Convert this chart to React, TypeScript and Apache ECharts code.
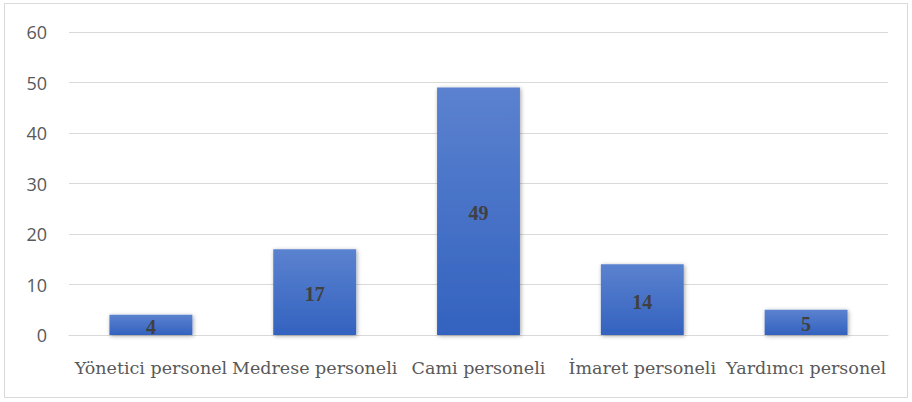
import React, { useEffect, useRef } from "react";
import * as echarts from "echarts";

const categories = ["Yönetici personel", "Medrese personeli", "Cami personeli", "İmaret personeli", "Yardımcı personel"];
const values = [4, 17, 49, 14, 5];
const yTicks = [0, 10, 20, 30, 40, 50, 60];

export default function App() {
  const ref = useRef<HTMLDivElement>(null);
  useEffect(() => {
    const chart = echarts.init(ref.current!, null, { renderer: "svg" });
    chart.setOption({
      animation: false,
      backgroundColor: "#ffffff",
      graphic: [
        {
          type: "rect",
          shape: { x: 4.5, y: 3.5, width: 903, height: 394 },
          style: { fill: "none", stroke: "#d9d9d9", lineWidth: 1 },
          silent: true,
        },
      ],
      grid: { left: 69, right: 24, top: 32, bottom: 67 },
      xAxis: {
        type: "category",
        data: categories,
        axisLine: { show: true, lineStyle: { color: "#d9d9d9", width: 1 } },
        axisTick: { show: false },
        axisLabel: {
          color: "#595959",
          fontFamily: "DejaVu Serif",
          fontSize: 17.5,
          margin: 24,
          interval: 0,
        },
      },
      yAxis: {
        type: "value",
        min: yTicks[0],
        max: yTicks[yTicks.length - 1],
        interval: 10,
        axisLine: { show: false },
        axisTick: { show: false },
        splitLine: { lineStyle: { color: "#d9d9d9", width: 1 } },
        axisLabel: {
          color: "#595959",
          fontFamily: "Open Sans",
          fontSize: 18,
          margin: 22,
        },
      },
      series: [
        {
          type: "bar",
          data: values,
          barWidth: "50.6%",
          itemStyle: {
            color: new echarts.graphic.LinearGradient(0, 0, 0, 1, [
              { offset: 0, color: "#5b82cf" },
              { offset: 1, color: "#3362bf" },
            ]),
            shadowBlur: 4,
            shadowColor: "rgba(0,0,0,0.35)",
            shadowOffsetX: 1,
            shadowOffsetY: 1,
          },
          label: {
            show: true,
            position: "inside",
            offset: [0, 2],
            color: "#404040",
            fontFamily: "Liberation Serif",
            fontWeight: "bold",
            fontSize: 20,
          },
        },
      ],
    });
    return () => chart.dispose();
  }, []);
  return (
    <div
      ref={ref}
      style={{ position: "absolute", left: 0, top: 0, width: 912, height: 402 }}
    />
  );
}
